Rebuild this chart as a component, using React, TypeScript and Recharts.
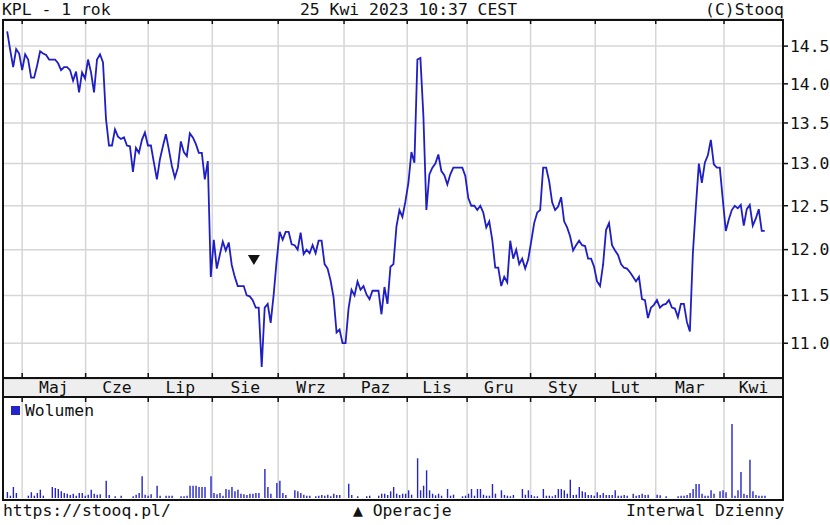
import React from 'react';
import {
    ComposedChart,
    BarChart,
    Line,
    Bar,
    Scatter,
    XAxis,
    YAxis,
    CartesianGrid,
} from 'recharts';

// KPL daily close, one value per trading day (25.04.2022 - 25.04.2023)
const closePrices = [
    14.70, 14.45, 14.22, 14.46, 14.40, 14.18, 14.39, 14.32, 14.08, 14.08,
    14.24, 14.43, 14.40, 14.38, 14.32, 14.32, 14.32, 14.27, 14.18, 14.22,
    14.22, 14.18, 14.04, 14.16, 13.89, 14.15, 14.07, 14.32, 14.15, 13.89,
    14.32, 14.39, 14.28, 13.55, 13.22, 13.22, 13.42, 13.33, 13.30, 13.32,
    13.22, 13.21, 12.90, 13.19, 13.13, 13.29, 13.38, 13.22, 13.22, 13.01,
    12.81, 13.05, 13.21, 13.36, 13.17, 12.97, 12.83, 12.95, 13.27, 13.14,
    13.09, 13.37, 13.32, 13.24, 13.13,
    13.13, 12.81, 13.03, 11.70, 12.11, 11.79, 11.94, 12.09, 11.99, 12.08,
    11.83, 11.70, 11.60, 11.60, 11.60, 11.50, 11.49, 11.45, 11.37, 11.37,
    10.76, 11.37, 11.41, 11.21, 11.51, 11.88, 12.20, 12.11, 12.20, 12.20,
    12.06, 12.05, 12.00, 12.19, 11.95, 12.00, 11.96, 12.05, 11.96, 12.10,
    12.10, 11.84, 11.79, 11.66, 11.48, 11.11, 11.14, 11.00, 11.00, 11.36,
    11.56, 11.50, 11.65, 11.56, 11.60, 11.51, 11.46, 11.55, 11.55, 11.55,
    11.30, 11.59, 11.41, 11.81, 11.84,
    12.26, 12.45, 12.37, 12.55, 12.77, 13.14, 13.01, 14.32, 14.34, 13.59,
    12.45, 12.87, 12.95, 13.00, 13.11, 12.91, 12.86, 12.75, 12.87, 12.95,
    12.95, 12.95, 12.95, 12.85, 12.59, 12.50, 12.50, 12.45, 12.50, 12.42,
    12.25, 12.32, 12.11, 11.80, 11.80, 11.60, 11.70, 11.64, 12.10, 11.90,
    12.00, 11.84, 11.90, 11.79, 11.89, 12.09, 12.30, 12.42, 12.45, 12.95,
    12.95, 12.79, 12.54, 12.45, 12.49, 12.60, 12.32, 12.25, 12.15, 11.99,
    12.05, 12.10, 12.05, 12.04, 11.90,
    11.90, 11.81, 11.65, 11.60, 11.83, 12.22, 12.30, 12.05, 11.99, 11.94,
    11.84, 11.80, 11.79, 11.75, 11.70, 11.65, 11.70, 11.46, 11.45, 11.26,
    11.37, 11.40, 11.45, 11.37, 11.40, 11.41, 11.45, 11.37, 11.36, 11.27,
    11.41, 11.41, 11.22, 11.12, 11.96, 12.49, 13.00, 12.77, 13.01, 13.10,
    13.29, 12.99, 12.95, 12.95, 12.57, 12.21, 12.34, 12.45, 12.50, 12.47,
    12.51, 12.27, 12.46, 12.51, 12.27, 12.35, 12.46, 12.21, 12.21,
];

// daily volume (thousands of shares), same days as closePrices
const volumes = [
    6, 2.3, 11, 5, 0, 0, 0, 2.3, 5.7, 2.3,
    5, 8.3, 2.3, 0, 0, 11, 10, 9, 6.7, 5,
    4.3, 3, 4.3, 2.3, 5, 5, 2.3, 3.3, 8.3, 4.3,
    3.3, 3.7, 0, 17.3, 3, 0, 1.7, 0, 2.3, 0,
    0, 0, 1.7, 3.3, 5, 21.7, 3.3, 2.3, 3.7, 0,
    12.3, 2.3, 0, 2.3, 2.3, 2.3, 0, 0, 1.7, 1.7,
    2.3, 12.3, 12.3, 12.3, 11, 11, 11, 0, 21.7, 5,
    3.7, 5, 2.3, 9, 8.3, 11, 6.7, 8.3, 4.3, 3.7,
    3, 4.3, 4.3, 5, 5, 0, 29, 11, 4.3, 0,
    15, 17.3, 5, 3, 0, 0, 7.7, 6.7, 5, 3.3,
    2.3, 2.3, 0, 1.7, 2.3, 3, 2.3, 3.3, 1.7, 4.3,
    3, 3, 0, 0, 14.3, 3, 0, 1.7, 0, 0,
    1.7, 2.3, 0, 0, 2.3, 4.3, 4.3, 3, 6.7, 11,
    4.3, 3, 4.3, 4.3, 7.7, 3.3, 0, 39.7, 7.7, 12.3,
    27.7, 7.7, 4.3, 2.7, 4.3, 2.3, 0, 9, 2.3, 3.3,
    0, 0, 1.7, 2.3, 4.3, 9, 2.3, 9, 9, 3.3,
    2.3, 2.3, 14, 4.3, 0, 7.7, 3, 2.3, 1.7, 3,
    0, 0, 9, 3.3, 7.7, 3, 1.7, 1.7, 0, 9,
    2.3, 2.3, 1.7, 3, 9, 9, 7.7, 4.3, 18.3, 3,
    3.3, 11, 6.7, 5.7, 3, 3, 2.3, 5.7, 3, 5,
    3, 3, 3, 7.7, 2.3, 2.3, 3, 2.3, 0, 4.3,
    2.3, 3, 4.3, 3, 3.3, 0, 0, 3.3, 2.7, 0,
    1.7, 0, 0, 0, 1.7, 2.3, 2.3, 3, 5, 9,
    14, 14, 4.3, 2.3, 2.3, 7.7, 4.3, 0, 6.7, 7.7,
    5.7, 0, 74, 2.3, 7.7, 26, 4.3, 3, 38.3, 6.7,
    3, 2.3, 2.3, 2.3,
];

const monthNames = ['Maj', 'Cze', 'Lip', 'Sie', 'Wrz', 'Paz', 'Lis', 'Gru', 'Sty', 'Lut', 'Mar', 'Kwi'];
// trading-day position of the first session of each month
const monthStarts = [5.0, 26.2, 47.1, 68.5, 90.5, 112.5, 133.6, 153.6, 174.8, 196.4, 216.6, 239.4];
const priceTicks = [11, 11.5, 12, 12.5, 13, 13.5, 14, 14.5];
const operations = [{ day: 82.4, price: 11.885 }];

const X_DOMAIN: [number, number] = [-1.4, 259.1];
const PRICE_DOMAIN: [number, number] = [10.64, 14.87];
const VOLUME_DOMAIN: [number, number] = [0, 101];

const FONT = '"DejaVu Sans Mono", monospace';
const FONT_SIZE = 16.4;
const INK = '#111';
const GRID = '#d6d6d6';
const LINE_BLUE = '#1e1ec4';
const BAR_BLUE = '#2424cc';

const priceData = closePrices.map((close, day) => ({ day, close }));
const volumeData = volumes.map((vol, day) => ({ day, vol }));
const monthMids = monthStarts.map((s, k) =>
    (s + (k + 1 < monthStarts.length ? monthStarts[k + 1] : X_DOMAIN[1])) / 2
);

const tickFont = { fontFamily: FONT, fontSize: FONT_SIZE, fill: INK };
const noLabel = () => <g />;
const tickMark = { stroke: INK, strokeWidth: 1.5 };

const DownTriangle = (props: any) => {
    const { cx, cy } = props;
    return <path d={`M${cx - 6},${cy - 5}L${cx + 6},${cy - 5}L${cx},${cy + 5}Z`} fill={INK} />;
};

const abs = (left: number, top: number): React.CSSProperties => ({ position: 'absolute', left, top });

const App: React.FC = () => {
    return (
        <div
            style={{
                position: 'absolute',
                left: 0,
                top: 0,
                width: 830,
                height: 525,
                background: '#fff',
                fontFamily: FONT,
                fontSize: FONT_SIZE,
                lineHeight: '16px',
                color: INK,
                overflow: 'hidden',
            }}
        >
            {/* month band background */}
            <div style={{ ...abs(2, 377), width: 782, height: 21, background: '#eeeeee' }} />

            <div style={abs(2, 2)}>KPL - 1 rok</div>
            <div style={abs(300, 2)}>25 Kwi 2023 10:37 CEST</div>
            <div style={{ ...abs(0, 2), width: 784, textAlign: 'right' }}>(C)Stooq</div>

            <div style={abs(0, 0)}>
                <ComposedChart
                    width={830}
                    height={396}
                    data={priceData}
                    margin={{ top: 19, right: 0, bottom: 0, left: 3 }}
                >
                    <CartesianGrid stroke={GRID} strokeWidth={1.5} />
                    <XAxis
                        dataKey="day"
                        type="number"
                        domain={X_DOMAIN}
                        allowDataOverflow
                        ticks={monthStarts}
                        interval={0}
                        orientation="top"
                        mirror
                        height={1}
                        tick={noLabel}
                        axisLine={false}
                        tickLine={tickMark}
                        tickSize={5}
                    />
                    <XAxis
                        xAxisId="base"
                        dataKey="day"
                        type="number"
                        domain={X_DOMAIN}
                        allowDataOverflow
                        ticks={monthStarts}
                        interval={0}
                        orientation="bottom"
                        mirror
                        height={1}
                        tick={noLabel}
                        axisLine={false}
                        tickLine={tickMark}
                        tickSize={6}
                    />
                    <XAxis
                        xAxisId="months"
                        dataKey="day"
                        type="number"
                        domain={X_DOMAIN}
                        allowDataOverflow
                        ticks={monthMids}
                        interval={0}
                        orientation="bottom"
                        height={17}
                        axisLine={false}
                        tickLine={false}
                        tickSize={0}
                        tickMargin={2}
                        tick={tickFont}
                        tickFormatter={(v: number) => monthNames[monthMids.indexOf(v)]}
                    />
                    <YAxis
                        orientation="right"
                        type="number"
                        scale="log"
                        domain={PRICE_DOMAIN}
                        allowDataOverflow
                        ticks={priceTicks}
                        interval={0}
                        width={47}
                        axisLine={false}
                        tickLine={tickMark}
                        tickSize={5}
                        tickMargin={2}
                        tick={tickFont}
                        tickFormatter={(v: number) => v.toFixed(1)}
                    />
                    <Line
                        type="linear"
                        dataKey="close"
                        stroke={LINE_BLUE}
                        strokeWidth={1.8}
                        dot={false}
                        isAnimationActive={false}
                    />
                    <Scatter
                        data={operations}
                        dataKey="price"
                        shape={DownTriangle}
                        isAnimationActive={false}
                    />
                </ComposedChart>
            </div>

            <div style={abs(0, 397)}>
                <BarChart
                    width={830}
                    height={101}
                    data={volumeData}
                    margin={{ top: 0, right: 47, bottom: 0, left: 3 }}
                >
                    <CartesianGrid stroke={GRID} strokeWidth={1.5} horizontal={false} />
                    <XAxis
                        dataKey="day"
                        type="number"
                        domain={X_DOMAIN}
                        allowDataOverflow
                        ticks={monthStarts}
                        interval={0}
                        orientation="top"
                        mirror
                        height={1}
                        tick={noLabel}
                        axisLine={false}
                        tickLine={tickMark}
                        tickSize={5}
                    />
                    <YAxis hide domain={VOLUME_DOMAIN} allowDataOverflow />
                    <Bar dataKey="vol" fill={BAR_BLUE} barSize={1.4} isAnimationActive={false} />
                </BarChart>
            </div>

            {/* panel frames */}
            <div style={{ ...abs(2, 19), width: 782, height: 360, border: `2px solid ${INK}`, boxSizing: 'border-box' }} />
            <div style={{ ...abs(2, 377), width: 782, height: 21, border: `2px solid ${INK}`, boxSizing: 'border-box' }} />
            <div style={{ ...abs(2, 396), width: 782, height: 105, border: `2px solid ${INK}`, boxSizing: 'border-box' }} />

            <div style={{ ...abs(11, 406), width: 9, height: 9, background: BAR_BLUE }} />
            <div style={abs(25, 403)}>Wolumen</div>

            <div style={abs(3, 503)}>https://stooq.pl/</div>
            <div style={abs(353, 503)}>▲ Operacje</div>
            <div style={{ ...abs(0, 503), width: 784, textAlign: 'right' }}>Interwal Dzienny</div>
        </div>
    );
};

export default App;
